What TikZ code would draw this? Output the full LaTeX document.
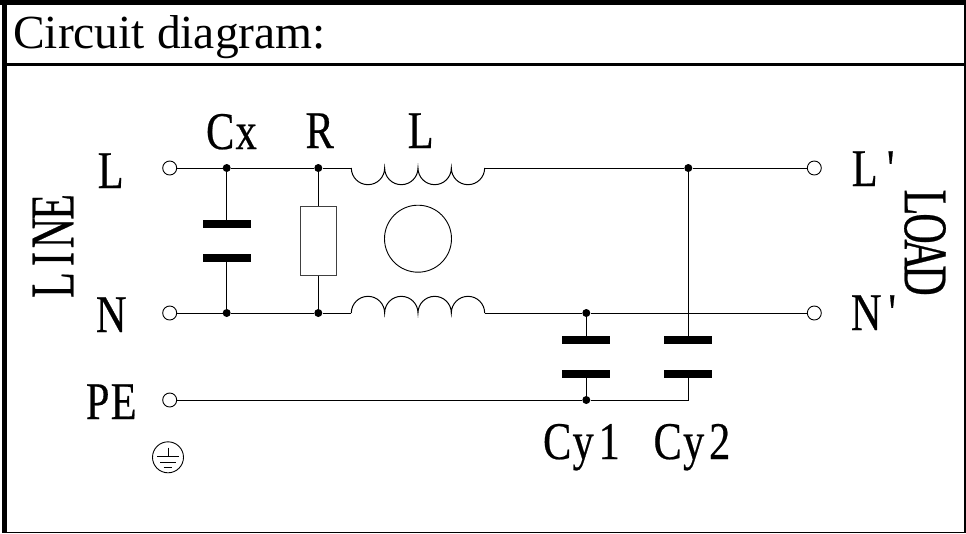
\documentclass[tikz,border=0pt]{standalone}
\usepackage{fontspec}
\setmainfont{Liberation Serif}
\newfontfamily\labfont[FakeStretch=0.8,FakeBold=0.4]{Liberation Serif}
\newfontfamily\sidefont[FakeStretch=0.68,FakeBold=0.4]{Liberation Serif}
\newcommand\pitched[1]{\makebox[26pt][c]{#1}}
\tikzset{
  wire/.style={line width=1pt,black},
  term/.style={circle,draw=black,fill=white,line width=0.9pt,minimum size=14pt,inner sep=0pt},
  jdot/.style={circle,fill=black,minimum size=8pt,inner sep=0pt},
  plate/.style={fill=black,minimum width=48pt,minimum height=8pt,inner sep=0pt},
  res/.style={draw=black!75,fill=white,line width=1pt,minimum width=36pt,minimum height=69pt,inner sep=0pt},
  core/.style={circle,draw=black,line width=0.9pt,minimum size=67pt,inner sep=0pt},
  lab/.style={inner sep=0pt,anchor=base west,font=\labfont\fontsize{53}{53}\selectfont},
  sidelab/.style={inner sep=0pt,anchor=center,font=\sidefont\fontsize{62}{62}\selectfont},
  gnd/.style={line width=0.8pt}
}
\begin{document}
\begin{tikzpicture}[x=1pt,y=-1pt]
\useasboundingbox (0,0) rectangle (966,533);
\fill[white] (0,0) rectangle (966,533);
% frame
\fill[black] (0,0) rectangle (966,5);
\fill[black] (2,0) rectangle (7,533);
\fill[black] (963.5,0) rectangle (966,533);
\fill[black] (2,63) rectangle (966,66);
\fill[black] (2,532) rectangle (966,533);
\node[inner sep=0pt,anchor=base west,font=\fontsize{47.5}{47.5}\selectfont] (title) at (13,48) {Circuit diagram:};
% terminals
\node[term] (tL) at (169.7,168) {};
\node[term] (tN) at (169.7,313) {};
\node[term] (tPE) at (169.7,400) {};
\node[term] (tLp) at (814.3,168) {};
\node[term] (tNp) at (814.3,313) {};
% junctions
\node[jdot] (jL1) at (226.7,168) {};
\node[jdot] (jL2) at (318.3,168) {};
\node[jdot] (jL3) at (688.3,168) {};
\node[jdot] (jN1) at (226.7,313) {};
\node[jdot] (jN2) at (318.3,313) {};
\node[jdot] (jN3) at (586.3,313) {};
\node[jdot] (jP1) at (586.3,400) {};
\coordinate (coilTa) at (351.3,168);
\coordinate (coilTb) at (484.7,168);
\coordinate (coilBa) at (351.3,313);
\coordinate (coilBb) at (484.7,313);
\coordinate (corner) at (688.3,400);
% components
\node[plate] (cxa) at (226.7,224.2) {};
\node[plate] (cxb) at (226.7,258.2) {};
\node[res] (R) at (318.3,240.6) {};
\node[core] (C) at (418,238.7) {};
\node[plate] (c1a) at (586.3,339.7) {};
\node[plate] (c1b) at (586.3,373.7) {};
\node[plate] (c2a) at (688.3,339.7) {};
\node[plate] (c2b) at (688.3,373.7) {};
% wires
\draw[wire] (tL) -- (jL1) -- (jL2) -- (coilTa);
\draw[wire] (coilTa) arc[start angle=180,end angle=360,radius=16.67pt]
  arc[start angle=180,end angle=360,radius=16.67pt]
  arc[start angle=180,end angle=360,radius=16.67pt]
  arc[start angle=180,end angle=360,radius=16.67pt];
\draw[wire] (coilTb) -- (jL3) -- (tLp);
\draw[wire] (tN) -- (jN1) -- (jN2) -- (coilBa);
\draw[wire] (coilBa) arc[start angle=180,end angle=0,radius=16.67pt]
  arc[start angle=180,end angle=0,radius=16.67pt]
  arc[start angle=180,end angle=0,radius=16.67pt]
  arc[start angle=180,end angle=0,radius=16.67pt];
\draw[wire] (coilBb) -- (jN3) -- (tNp);
\draw[wire] (tPE) -- (jP1) -- (corner) -- (c2b);
\draw[wire] (jL1) -- (cxa);
\draw[wire] (cxb) -- (jN1);
\draw[wire] (jL2) -- (R);
\draw[wire] (R) -- (jN2);
\draw[wire] (jN3) -- (c1a);
\draw[wire] (c1b) -- (jP1);
\draw[wire] (jL3) -- (c2a);
% earth symbol
\node[circle,draw=black,line width=0.9pt,minimum size=31pt,inner sep=0pt] (earth) at (168,457.3) {};
\draw[gnd] (168,447.7) -- (168,456.7);
\draw[gnd] (157,456.7) -- (179,456.7);
\draw[gnd] (160,462.7) -- (176,462.7);
\draw[gnd,line width=1.2pt] (163.5,467.7) -- (172,467.7);
% labels
\node[lab] (lCx) at (207,149) {\pitched{C}\pitched{x}};
\node[lab] (lR) at (306.5,148) {\pitched{R}};
\node[lab] (lLL) at (407.5,148) {\pitched{L}};
\node[lab] (lL) at (97.5,188) {\pitched{L}};
\node[lab] (lN) at (98,332) {\pitched{N}};
\node[lab] (lPE) at (84.5,419) {\pitched{P}\pitched{E}};
\node[lab] (lLp) at (851.5,186) {\pitched{L}\pitched{'}};
\node[lab] (lNp) at (853,330) {\pitched{N}\pitched{'}};
\node[lab] (lC1) at (544,459) {\pitched{C}\pitched{y}\pitched{1}};
\node[lab] (lC2) at (654.5,459) {\pitched{C}\pitched{y}\pitched{2}};
\node[sidelab,rotate=90] (lLine) at (53,246) {\pitched{L}\pitched{I}\pitched{N}\pitched{E}};
\node[sidelab,rotate=-90] (lLoad) at (925,241.5) {\pitched{L}\pitched{O}\pitched{A}\pitched{D}};
\end{tikzpicture}
\end{document}
